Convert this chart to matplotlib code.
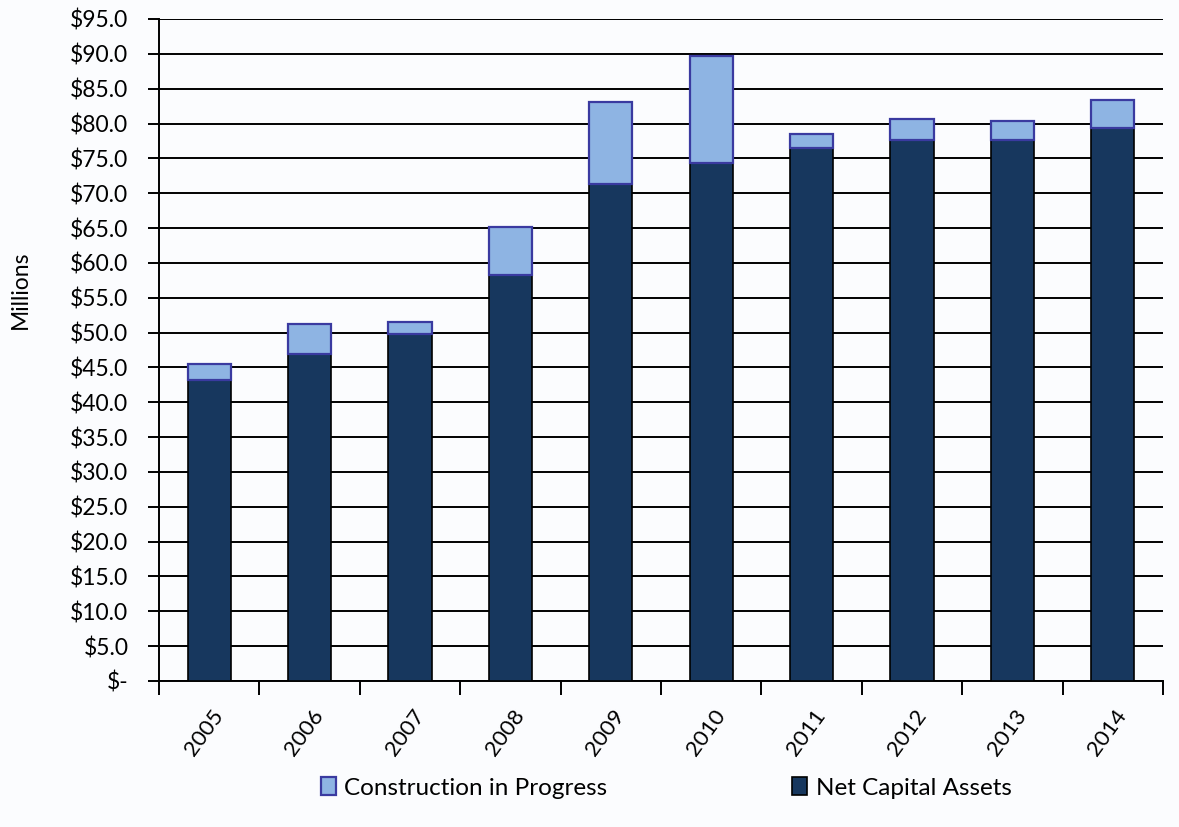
"""Stacked bar chart of net capital assets and construction in progress."""

import matplotlib
matplotlib.use('Agg')
import matplotlib.pyplot as plt
import numpy as np
from matplotlib.patches import Patch


years = ["2005", "2006", "2007", "2008", "2009", "2010", "2011", "2012", "2013", "2014"]
net_capital_assets = [43.2, 46.9, 49.8, 58.3, 71.3, 74.4, 76.5, 77.6, 77.6, 79.4]
construction_in_progress = [2.3, 4.3, 1.7, 6.9, 11.8, 15.3, 2.0, 3.0, 2.7, 4.0]
y_ticks = np.arange(0, 95.1, 5)

NAVY = "#17375E"
LIGHT_BLUE = "#8EB4E3"
CIP_EDGE = "#3A3AA0"
BG = "#FBFCFE"

plt.rcParams['font.family'] = ['Lato', 'DejaVu Sans']

fig = plt.figure(figsize=(11.79, 8.27), dpi=100, facecolor=BG)
ax = fig.add_axes([159 / 1179, 1 - 681 / 827, (1163 - 159) / 1179, (681 - 19) / 827])
ax.set_facecolor(BG)

x = np.arange(len(years))
width = 0.43
ax.bar(x, net_capital_assets, width, color=NAVY, edgecolor="black", linewidth=1.2, zorder=3)
ax.bar(x, construction_in_progress, width, bottom=net_capital_assets,
       color=LIGHT_BLUE, edgecolor=CIP_EDGE, linewidth=1.6, zorder=3)

ax.set_xlim(-0.5, len(years) - 0.5)
ax.set_ylim(0, 95)
ax.set_yticks(y_ticks)
ax.set_yticklabels(["$-" if v == 0 else f"${v:.1f}" for v in y_ticks], fontsize=16.5)
ax.yaxis.grid(True, color="black", linewidth=1.4, zorder=0)
ax.tick_params(axis="y", length=8, width=1.4, pad=14)

# category ticks sit between the bars, labels sit under the bars
ax.set_xticks(np.arange(len(years) + 1) - 0.5)
ax.set_xticklabels([])
ax.tick_params(axis="x", which="major", length=10, width=1.4)
ax.set_xticks(x + 0.02, minor=True)
ax.set_xticklabels(years, minor=True, rotation=54, fontsize=16,
                   ha="right", va="top", rotation_mode="anchor")
ax.tick_params(axis="x", which="minor", length=0, pad=18)

for side in ["top", "right"]:
    ax.spines[side].set_visible(False)
ax.spines["left"].set_linewidth(1.4)
ax.spines["bottom"].set_linewidth(1.4)
ax.axhline(95, color="#888888", linewidth=1.4, zorder=1)

fig.text(20 / 1179, 1 - 290 / 827, "Millions", rotation=90, fontsize=16.5,
         ha="center", va="center")

handles = [
    Patch(facecolor=LIGHT_BLUE, edgecolor=CIP_EDGE, linewidth=1.6, label="Construction in Progress"),
    Patch(facecolor=NAVY, edgecolor="black", linewidth=1.2, label="Net Capital Assets"),
]
fig.legend(handles=handles, loc="center", bbox_to_anchor=(666 / 1179, 1 - 788 / 827),
           ncol=2, frameon=False, fontsize=17.5, handlelength=0.62, handleheight=0.72,
           handletextpad=0.35, columnspacing=7.6)

fig.savefig("out.png", dpi=100, facecolor=BG)
